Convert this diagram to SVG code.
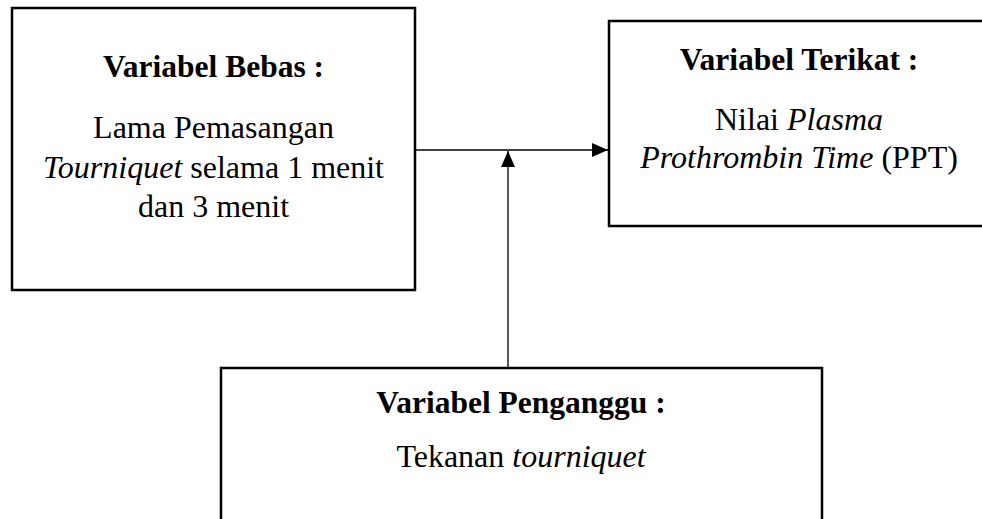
<svg xmlns="http://www.w3.org/2000/svg" width="982" height="519" viewBox="0 0 982 519">
  <style>
    .box { fill: #ffffff; stroke: #000000; stroke-width: 2.5; }
    .conn { fill: none; stroke: #000000; stroke-width: 1.3; }
    text { font-family: "Liberation Serif", "Times New Roman", serif; fill: #000000; text-anchor: middle; }
    .h { font-size: 31.5px; font-weight: bold; }
    .t { font-size: 32px; }
    .i { font-style: italic; }
  </style>
  <defs>
    <marker id="arrow" markerUnits="userSpaceOnUse" markerWidth="16" markerHeight="14" viewBox="0 0 16 14" refX="16" refY="7" orient="auto">
      <path d="M0,0 L16,7 L0,14 Z" fill="#000000"/>
    </marker>
  </defs>
  <rect width="982" height="519" fill="#ffffff"/>

  <g id="connectors">
    <line class="conn" x1="415" y1="150" x2="608" y2="150" marker-end="url(#arrow)"/>
    <line class="conn" x1="508" y1="368" x2="508" y2="151" marker-end="url(#arrow)"/>
  </g>

  <g id="variabel-bebas">
    <rect class="box" x="12" y="8" width="403" height="282"/>
    <text class="h" x="213.5" y="77">Variabel Bebas :</text>
    <text class="t" x="213.5" y="138">Lama Pemasangan</text>
    <text class="t" x="213.5" y="178"><tspan class="i">Tourniquet</tspan> selama 1 menit</text>
    <text class="t" x="213.5" y="217">dan 3 menit</text>
  </g>

  <g id="variabel-terikat">
    <rect class="box" x="609" y="21" width="380" height="205"/>
    <text class="h" x="799" y="70">Variabel Terikat :</text>
    <text class="t" x="799" y="130">Nilai <tspan class="i">Plasma</tspan></text>
    <text class="t" x="799" y="168"><tspan class="i">Prothrombin Time</tspan> (PPT)</text>
  </g>

  <g id="variabel-penganggu">
    <rect class="box" x="221" y="368" width="601" height="170"/>
    <text class="h" x="521" y="413">Variabel Penganggu :</text>
    <text class="t" x="521" y="467">Tekanan <tspan class="i">tourniquet</tspan></text>
  </g>
</svg>
